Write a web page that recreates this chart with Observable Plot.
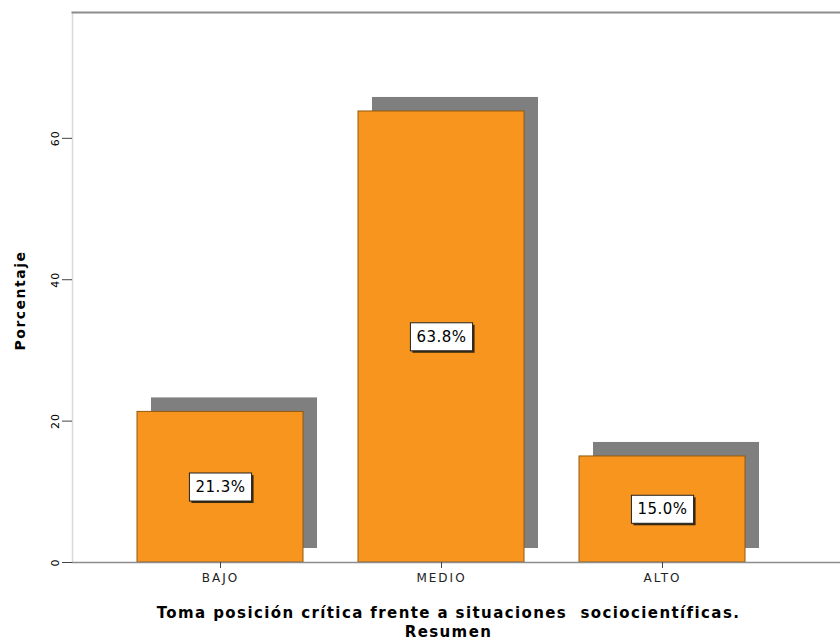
<!DOCTYPE html>
<html>
<head>
<meta charset="utf-8">
<script src="https://cdn.jsdelivr.net/npm/d3@7"></script>
<script src="https://cdn.jsdelivr.net/npm/@observablehq/plot@0.6"></script>
<style>
  body { margin: 0; background: #ffffff; }
  .x-ticks text { letter-spacing: 2px; }
  .y-ticks text { letter-spacing: 1px; }
  .pct-label text { letter-spacing: 0.5px; }
  .x-title text { letter-spacing: 1.4px; }
  .y-title text { letter-spacing: 1.5px; }
</style>
</head>
<body>
<div id="chart"></div>
<script>
// Niveles de la variable resumen y su porcentaje
const categories = ["BAJO", "MEDIO", "ALTO"];
const percentages = [21.3, 63.8, 15.0];
const valueLabels = ["21.3%", "63.8%", "15.0%"];
const yTicks = [0, 20, 40, 60];
const yTitle = "Porcentaje";
const xTitleLines = ["Toma posición crítica frente a situaciones  sociocientíficas.", "Resumen"];

const rows = categories.map((c, i) => ({ nivel: c, pct: percentages[i], label: valueLabels[i] }));

const chart = Plot.plot({
  width: 840,
  height: 644,
  marginTop: 12,
  marginBottom: 82,
  marginLeft: 72,
  marginRight: 0,
  style: { fontFamily: "'DejaVu Sans', Verdana, sans-serif", background: "#ffffff", color: "#000" },
  x: { domain: categories, range: [109.5, 772.5], paddingInner: 0.25, paddingOuter: 0.125 },
  y: { domain: [0, 77.8] },
  marks: [
    // marco: borde izquierdo claro y borde superior gris
    Plot.frame({ anchor: "left", stroke: "#d9d9d9", strokeWidth: 1.5 }),
    Plot.frame({ anchor: "top", stroke: "#8c8c8c", strokeWidth: 2 }),
    // sombra de cada barra
    Plot.barY(rows, { x: "nivel", y: "pct", fill: "#7f7f7f", dx: 14, dy: -14 }),
    // barras
    Plot.barY(rows, { x: "nivel", y: "pct", fill: "#f7951f", stroke: "#93590f", strokeWidth: 1 }),
    Plot.ruleY([0], { stroke: "#8c8c8c", strokeWidth: 1.5 }),
    Plot.axisY({
      ticks: yTicks, tickSize: 10, tickPadding: 4, tickRotate: -90,
      fontSize: 11, label: null, stroke: "#444", tickFormat: d => String(d),
      className: "y-ticks"
    }),
    Plot.axisX({
      tickSize: 6, tickPadding: 5, fontSize: 12, label: null,
      stroke: "#444", fill: "#222", className: "x-ticks"
    }),
    Plot.text([yTitle], {
      frameAnchor: "left", textAnchor: "middle", dx: -52, dy: 13, rotate: -90,
      fontWeight: "bold", fontSize: 14, className: "y-title"
    }),
    Plot.text([xTitleLines.join("\n")], {
      frameAnchor: "bottom", lineAnchor: "top", dx: -8, dy: 42,
      fontWeight: "bold", fontSize: 15, lineHeight: 1.25, className: "x-title"
    }),
    // etiquetas de porcentaje en el centro de cada barra
    Plot.text(rows, {
      x: "nivel", y: d => d.pct / 2, text: "label",
      fontSize: 15, className: "pct-label"
    })
  ]
});

document.getElementById("chart").append(chart);

// Caja blanca con borde y sombra detrás de cada etiqueta de porcentaje
d3.select(chart).selectAll(".pct-label text").each(function () {
  const b = this.getBBox();
  const t = this.getAttribute("transform");
  const padX = 6, padY = 5;
  const mk = (dx, dy, fill, stroke) => {
    const r = document.createElementNS("http://www.w3.org/2000/svg", "rect");
    r.setAttribute("x", b.x - padX + dx);
    r.setAttribute("y", b.y - padY + dy);
    r.setAttribute("width", b.width + 2 * padX);
    r.setAttribute("height", b.height + 2 * padY);
    r.setAttribute("fill", fill);
    if (stroke) { r.setAttribute("stroke", stroke); r.setAttribute("stroke-width", 1); }
    if (t) r.setAttribute("transform", t);
    this.parentNode.insertBefore(r, this);
  };
  mk(2, 2, "#3a2a10", null);
  mk(0, 0, "#ffffff", "#222");
});
</script>
</body>
</html>
